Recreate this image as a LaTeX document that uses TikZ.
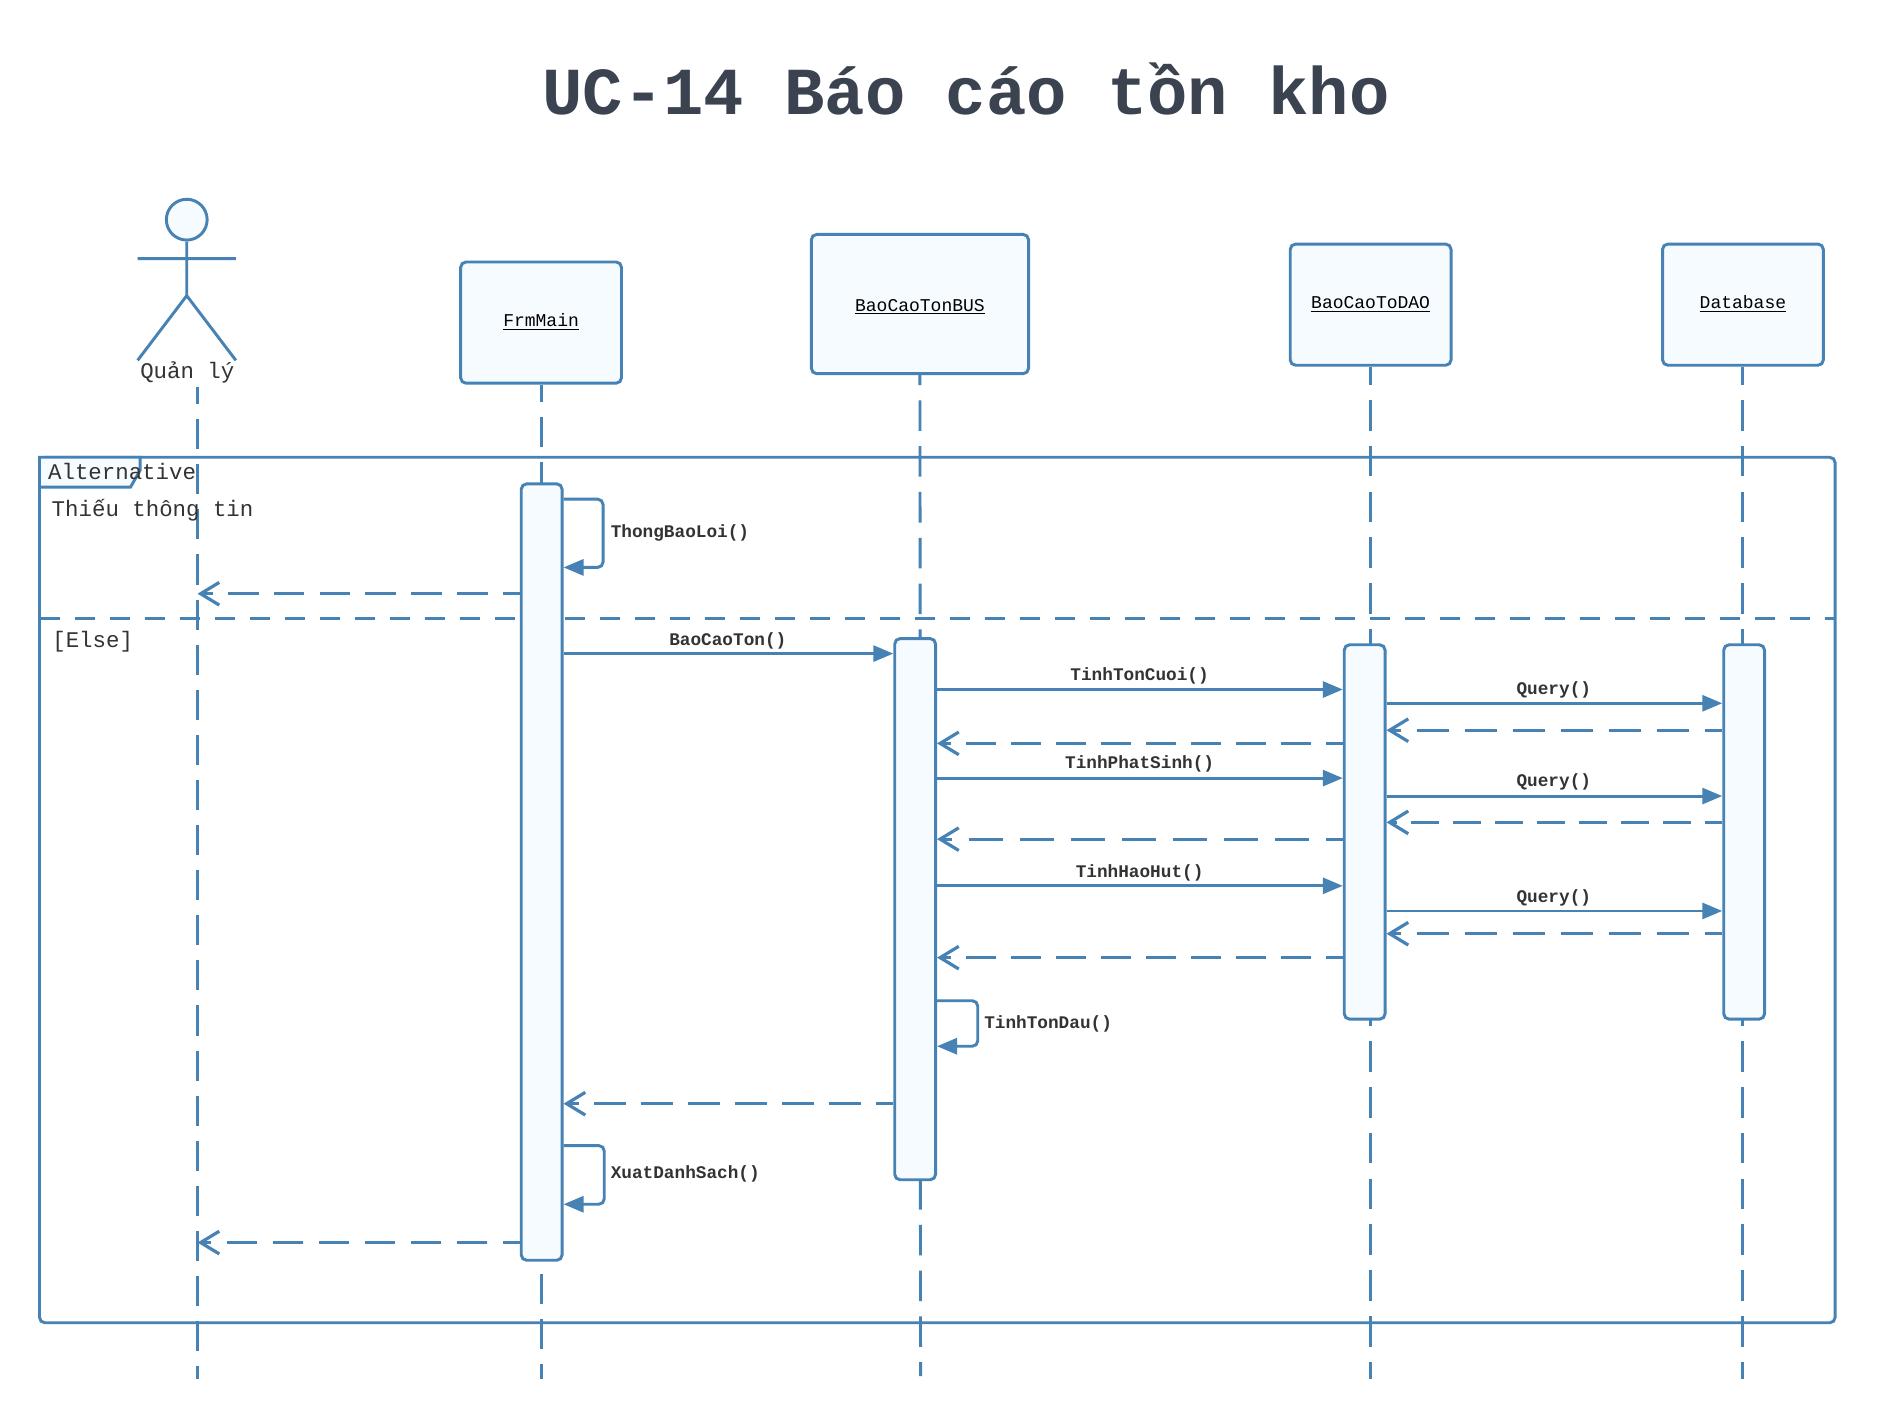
\documentclass[tikz,border=0pt]{standalone}
\usepackage{fontspec}
\setmainfont{Liberation Mono}
\usetikzlibrary{arrows.meta,calc}
\definecolor{ln}{HTML}{4682B4}
\definecolor{bx}{HTML}{F6FBFF}
\definecolor{ttl}{HTML}{3A434F}
\definecolor{tx}{HTML}{333333}
\tikzset{
  base/.style={draw=ln,line width=2.2pt},
  head/.style={base,fill=bx,rounded corners=4pt,inner sep=0pt,text=black,font=\fontsize{13.5}{16}\selectfont,align=center},
  act/.style={base,fill=bx,rounded corners=4pt,inner sep=0pt,minimum width=30.6pt},
  life/.style={base,dash pattern=on 22.9pt off 11.45pt,dash phase=#1},
  life/.default=9.4pt,
  lifeshort/.style={base,dash pattern=on 22.55pt off 11.27pt,dash phase=9.4pt},
  sync/.style={base,-{Triangle[length=15pt,width=12pt]}},
  ret/.style={base,dash pattern=on #1pt off #1pt/2,dash phase=#1pt-12.75pt,-{Straight Barb[length=14pt,width=17pt,line width=2.4pt]}},
  ret/.default=23,
  selfm/.style={base,rounded corners=4pt,-{Triangle[length=15pt,width=12pt]}},
  lbl/.style={text=tx,font=\fontsize{13.3}{16}\selectfont\bfseries,inner sep=0pt},
  frm/.style={text=tx,font=\fontsize{16.8}{20}\selectfont,inner sep=0pt},
}
\begin{document}
\begin{tikzpicture}[x=0.8978pt,y=0.8978pt]
\useasboundingbox (0,0) rectangle (1568,-1185.4);
\fill[white] (0,0) rectangle (1568,-1185.4);
% title
\node[text=ttl,font=\fontsize{50.4}{56}\selectfont\bfseries,inner sep=0pt] (title) at (807,-74.3) {UC-14 Báo cáo tồn kho};
% frame
\draw[base,rounded corners=4pt] (33,-382) rectangle (1533,-1105);
\draw[base,fill=bx] (33,-382) -- (117,-382) -- (117,-393) -- (109,-407) -- (33,-407) -- cycle;
\draw[base,dash pattern=on 15pt off 11.25pt] (33,-517) -- (1533,-517);
% heads
\node[head,minimum width=120.6pt,minimum height=90.9pt] (hF) at (452,-269.5) {\raisebox{-3.1pt}[0pt][0pt]{\underline{FrmMain}}};
\node[head,minimum width=162.9pt,minimum height=104.4pt] (hB) at (768.5,-254) {\raisebox{-5.4pt}[0pt][0pt]{\underline{BaoCaoTonBUS}}};
\node[head,minimum width=120.6pt,minimum height=90.9pt] (hD) at (1145,-254.5) {\raisebox{-3.1pt}[0pt][0pt]{\underline{BaoCaoToDAO}}};
\node[head,minimum width=120.6pt,minimum height=90.9pt] (hDB) at (1456,-254.5) {\raisebox{-3.1pt}[0pt][0pt]{\underline{Database}}};
% actor
\node[base,fill=bx,circle,minimum size=30.6pt,inner sep=0pt] (aHead) at (156,-183.5) {};
\coordinate (hip) at (156,-247);
\coordinate (armL) at (115,-216);
\coordinate (armR) at (197,-216);
\coordinate (legL) at (115,-301);
\coordinate (legR) at (197,-301);
\draw[base] (aHead.south) -- (hip) (armL) -- (armR) (legL) -- (hip) -- (legR);
\node[frm] (aLbl) at (156.5,-311) {Quản lý};
% lifeline ends
\coordinate (aTop) at (165,-323);
\coordinate (aEnd) at (165,-1152);
\coordinate (fEnd) at (452,-1152);
\coordinate (bEnd) at (769,-1149.5);
\coordinate (dEnd) at (1145,-1152);
\coordinate (dbEnd) at (1456,-1152);
\draw[lifeshort] (aTop) -- (aEnd);
\draw[lifeshort] (hF.south) -- (fEnd);
\draw[life=15.4pt] (hB.south) -- (bEnd);
\draw[life] (hD.south) -- (dEnd);
\draw[life] (hDB.south) -- (dbEnd);
% frame texts
\node[frm,anchor=west] (fAlt) at (40,-393.5) {Alternative};
\node[frm,anchor=west] (fIf) at (43,-426) {Thiếu thông tin};
\node[frm,anchor=west] (fElse) at (43.5,-536) {[Else]};
% activations
\node[act,minimum height=582.3pt] (aF) at (452.5,-728.5) {};
\node[act,minimum height=405.9pt] (aB) at (764.5,-759.5) {};
\node[act,minimum height=280.8pt] (aD) at (1140,-695) {};
\node[act,minimum height=280.8pt] (aDB) at (1457,-695) {};
% messages
\draw[selfm] (aF.east |- 0,-417) -- ++(33,0) -- ++(0,-57) -- (aF.east |- 0,-474);
\node[lbl,anchor=west] (m1) at (510,-445) {ThongBaoLoi()};
\draw[ret=22.9] (aF.west |- 0,-496) -- (aTop |- 0,-496);
\draw[sync] (aF.east |- 0,-546) -- (aB.west |- 0,-546);
\node[lbl] (m2) at (608,-535) {BaoCaoTon()};
\draw[sync] (aB.east |- 0,-576) -- (aD.west |- 0,-576);
\node[lbl] (m3) at (952,-565) {TinhTonCuoi()};
\draw[ret=22.5] (aD.west |- 0,-621) -- (aB.east |- 0,-621);
\draw[sync] (aB.east |- 0,-650) -- (aD.west |- 0,-650);
\node[lbl] (m4) at (952,-638) {TinhPhatSinh()};
\draw[ret=25.5] (aD.west |- 0,-701) -- (aB.east |- 0,-701);
\draw[sync] (aB.east |- 0,-740) -- (aD.west |- 0,-740);
\node[lbl] (m5) at (952,-729) {TinhHaoHut()};
\draw[ret=22.5] (aD.west |- 0,-800) -- (aB.east |- 0,-800);
\draw[sync] (aD.east |- 0,-587.5) -- (aDB.west |- 0,-587.5);
\node[lbl] (q1) at (1298,-576) {Query()};
\draw[ret=24] (aDB.west |- 0,-610) -- (aD.east |- 0,-610);
\draw[sync] (aD.east |- 0,-665) -- (aDB.west |- 0,-665);
\node[lbl] (q2) at (1298,-653) {Query()};
\draw[ret=21] (aDB.west |- 0,-687) -- (aD.east |- 0,-687);
\draw[sync] (aD.east |- 0,-761) -- (aDB.west |- 0,-761);
\node[lbl] (q3) at (1298,-750) {Query()};
\draw[ret=24] (aDB.west |- 0,-780) -- (aD.east |- 0,-780);
\draw[selfm] (aB.east |- 0,-836) -- ++(34,0) -- ++(0,-38) -- (aB.east |- 0,-874);
\node[lbl,anchor=west] (m6) at (822,-855) {TinhTonDau()};
\draw[ret=23.5] (aB.west |- 0,-922) -- (aF.east |- 0,-922);
\draw[selfm] (aF.east |- 0,-957) -- ++(34,0) -- ++(0,-49) -- (aF.east |- 0,-1006);
\node[lbl,anchor=west] (m7) at (510,-981) {XuatDanhSach()};
\draw[ret=23] (aF.west |- 0,-1038) -- (aTop |- 0,-1038);
\end{tikzpicture}
\end{document}
